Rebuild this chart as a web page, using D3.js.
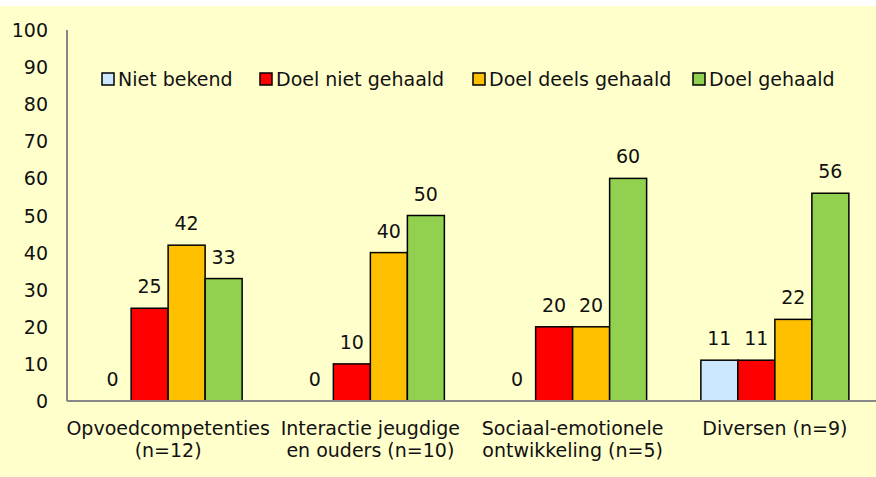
<!DOCTYPE html>
<html><head><meta charset="utf-8">
<script src="https://cdn.jsdelivr.net/npm/d3@7"></script>
<style>body{margin:0;background:#fff}svg{display:block}text{font-family:"DejaVu Sans",sans-serif;fill:#111}</style>
</head><body><svg id="c" width="876" height="477"></svg>
<script>
const categories = [["Opvoedcompetenties","(n=12)"],["Interactie jeugdige","en ouders (n=10)"],["Sociaal-emotionele","ontwikkeling (n=5)"],["Diversen (n=9)"]];
const series = ["Niet bekend","Doel niet gehaald","Doel deels gehaald","Doel gehaald"];
const colors = ["#CCE8FF","#FF0000","#FFC000","#92D050"];
const nietBekend = [0,0,0,11];
const doelNietGehaald = [25,10,20,11];
const doelDeelsGehaald = [42,40,20,22];
const doelGehaald = [33,50,60,56];
const yTicks = [0,10,20,30,40,50,60,70,80,90,100];
const values = [nietBekend, doelNietGehaald, doelDeelsGehaald, doelGehaald];

(function(){
const svg = d3.select("#c");
const FS = 19;
svg.append("rect").attr("x",0).attr("y",6).attr("width",876).attr("height",471).attr("fill","#FFFFCC");

const pL=67, pR=876, pT=30, pB=401;
const x = d3.scaleBand().domain(d3.range(categories.length)).range([pL,pR]);
const groupW = 148;
const xi = d3.scaleBand().domain(d3.range(series.length)).range([(x.bandwidth()-groupW)/2,(x.bandwidth()+groupW)/2]);
const y = d3.scaleLinear().domain([0,100]).range([pB,pT]);

series.forEach((s,si)=>{
  const g = svg.append("g");
  categories.forEach((c,ci)=>{
    const v = values[si][ci];
    const bx = x(ci)+xi(si);
    if(v>0){
      g.append("rect").attr("x",bx).attr("y",y(v)).attr("width",xi.bandwidth()).attr("height",y(0)-y(v))
        .attr("fill",colors[si]).attr("stroke","#000").attr("stroke-width",1.5);
    }
    g.append("text").attr("x",bx+xi.bandwidth()/2).attr("y",y(v)-15).attr("text-anchor","middle")
      .attr("font-size",FS).text(v);
  });
});

svg.append("line").attr("x1",pL).attr("x2",pL).attr("y1",pT).attr("y2",pB).attr("stroke","#888").attr("stroke-width",2);
svg.append("line").attr("x1",pL).attr("x2",pR).attr("y1",pB).attr("y2",pB).attr("stroke","#888").attr("stroke-width",2);
svg.selectAll(".yt").data(yTicks).join("text").attr("x",48).attr("y",d=>y(d)+7).attr("text-anchor","end")
  .attr("font-size",FS).text(d=>d);

categories.forEach((c,ci)=>{
  const t = svg.append("text").attr("x",x(ci)+x.bandwidth()/2).attr("text-anchor","middle").attr("font-size",FS);
  c.forEach((line,li)=>t.append("tspan").attr("x",x(ci)+x.bandwidth()/2).attr("y",435+li*22).text(line));
});

const legX = [102,260,473,693];
series.forEach((s,si)=>{
  svg.append("rect").attr("x",legX[si]).attr("y",73).attr("width",12).attr("height",12).attr("fill",colors[si]).attr("stroke","#000").attr("stroke-width",1.5);
  svg.append("text").attr("x",legX[si]+16).attr("y",86).attr("font-size",FS).text(s);
});
})();
</script></body></html>
